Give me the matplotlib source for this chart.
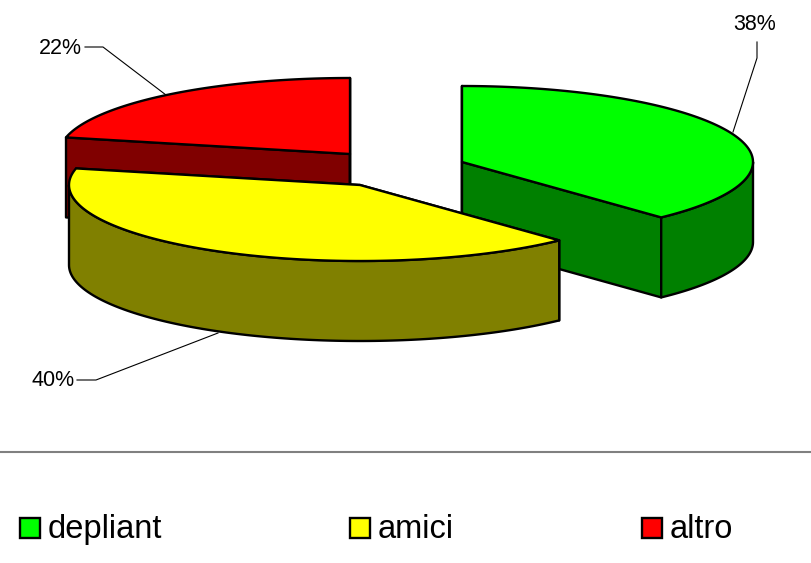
import numpy as np
import matplotlib
matplotlib.use('Agg')
import matplotlib.pyplot as plt
from matplotlib.patches import Polygon, Rectangle

labels = ['depliant', 'amici', 'altro']
shares = [38, 40.5, 21.5]
pct_labels = ['38%', '40%', '22%']
top_colors = ['#00ff00', '#ffff00', '#ff0000']
side_colors = ['#008000', '#808000', '#800000']

# slice apex in pixels, one per slice (exploded pie)
centers = [(462, 162), (360, 185), (350, 154)]
RX = 291
RY = 76
DEPTH = 80

plt.rcParams['font.family'] = ['Liberation Sans', 'DejaVu Sans']

fig = plt.figure(figsize=(8.11, 5.63), dpi=100)
ax = fig.add_axes([0, 0, 1, 1])
ax.set_xlim(0, 811)
ax.set_ylim(563, 0)
ax.axis('off')


def rim(c, a0, a1):
    # angles are clockwise from the top, like the pie
    t = np.radians(np.linspace(a0, a1, 120))
    return np.column_stack([c[0] + RX*np.sin(t), c[1] - RY*np.cos(t)])


def draw_slice(i, a0, a1, z):
    c = np.array(centers[i], dtype=float)
    arc = rim(c, a0, a1)
    down = np.array([0, DEPTH])
    kw = dict(edgecolor='black', lw=1.7, joinstyle='round', zorder=z)
    # flat cut faces first
    for end in (arc[0], arc[-1]):
        ax.add_patch(Polygon([c, end, end+down, c+down], facecolor=side_colors[i], **kw))
    # outer wall, only the part facing the viewer
    lo, hi = max(a0, 90), min(a1, 270)
    if hi > lo:
        front = rim(c, lo, hi)
        ax.add_patch(Polygon(np.vstack([front, (front+down)[::-1]]), facecolor=side_colors[i], **kw))
    ax.add_patch(Polygon(np.vstack([c, arc]), facecolor=top_colors[i], **kw))


angles = np.cumsum([0] + shares) * 3.6
for i, z in zip([0, 2, 1], [2, 3, 4]):
    draw_slice(i, angles[i], angles[i+1], z)

# percent labels with leader lines
label_xy = [(755, 24), (53, 381), (60, 48)]
leaders = [
    [(733, 132), (757, 58), (757, 42)],
    [(218, 333), (96, 380), (77, 380)],
    [(166, 95), (103, 47), (85, 47)],
]
for i in range(3):
    ax.text(label_xy[i][0], label_xy[i][1], pct_labels[i], fontsize=15.5, ha='center', va='center')
    pts = np.array(leaders[i])
    ax.plot(pts[:, 0], pts[:, 1], color='black', lw=0.8, zorder=5)

# legend strip
ax.plot([0, 811], [452, 452], color='#808080', lw=1.5)
legend_x = [20, 350, 642]
for i, x in enumerate(legend_x):
    ax.add_patch(Rectangle((x, 518), 20, 20, facecolor=top_colors[i], edgecolor='black', lw=1.7))
    ax.text(x+28, 538, labels[i], fontsize=23.5, ha='left', va='baseline')

fig.savefig('out.png', dpi=100)
